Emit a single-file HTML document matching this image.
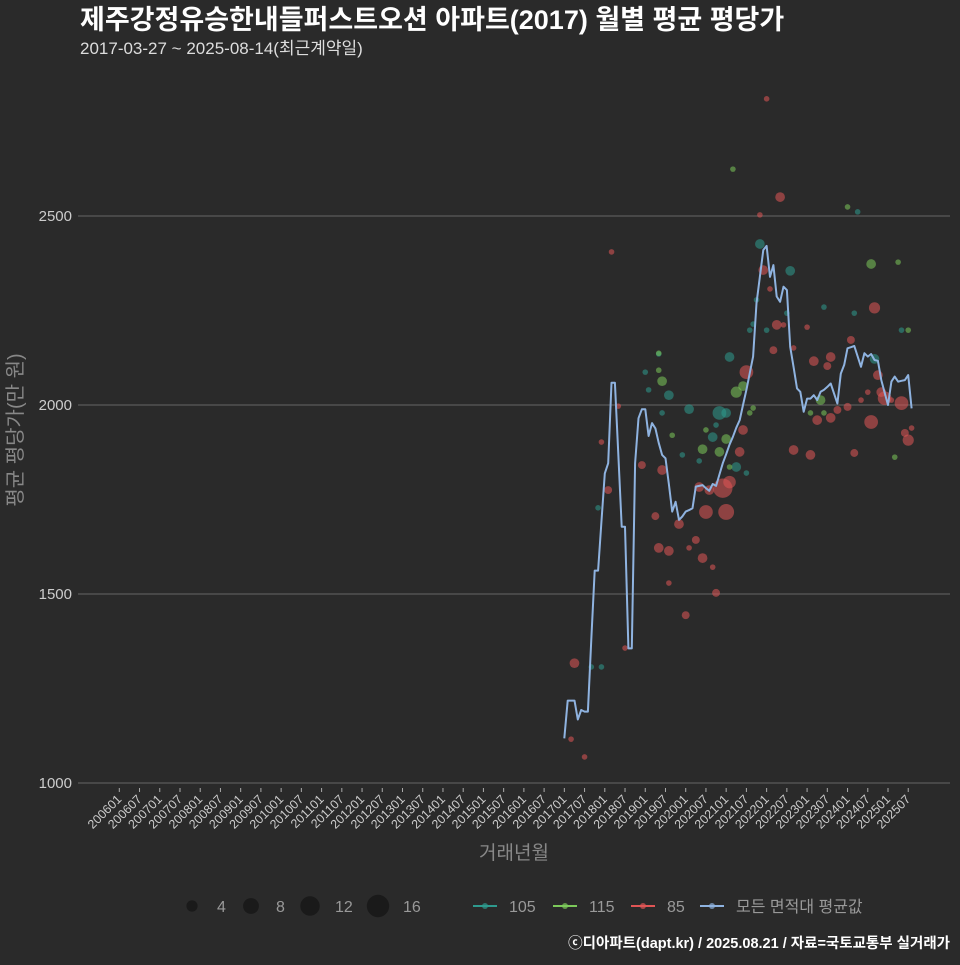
<!DOCTYPE html>
<html><head><meta charset="utf-8"><style>
html,body{margin:0;padding:0;background:#2a2a2a;}
body{width:960px;height:960px;overflow:hidden;font-family:"Liberation Sans","Noto Sans CJK KR",sans-serif;}
</style></head><body>
<svg id="chart" width="960" height="960" xmlns="http://www.w3.org/2000/svg" style="font-family:'Liberation Sans','Noto Sans CJK KR',sans-serif">
<rect width="960" height="960" fill="#2a2a2a"/>
<text x="80" y="29" fill="#ffffff" font-size="27" font-weight="bold">제주강정유승한내들퍼스트오션 아파트(2017) 월별 평균 평당가</text>
<text x="80" y="54" fill="#dddddd" font-size="17">2017-03-27 ~ 2025-08-14(최근계약일)</text>
<g id="grid"></g><g id="yticks"></g><g id="xticks"></g><g id="points"></g><g id="line"></g>
<text x="22" y="430" fill="#888" font-size="20" text-anchor="middle" transform="rotate(-90 22 430)">평균 평당가(만 원)</text>
<text x="514" y="859" fill="#888" font-size="19" text-anchor="middle">거래년월</text>
<g id="legend"></g>
<text x="950" y="948" fill="#ffffff" font-size="14.5" font-weight="bold" text-anchor="end">ⓒ디아파트(dapt.kr) / 2025.08.21 / 자료=국토교통부 실거래가</text>
</svg>
<script>
const yTicks=[1000,1500,2000,2500];
const xTickLabels=[];for(let y=2006;y<=2025;y++){xTickLabels.push(y+'01');xTickLabels.push(y+'07');}
// line: monthly average from 201701 (month index 132 since 200601)
const lineStart=132;
const lineValues=[1118,1218,1218,1218,1168,1193,1189,1189,1380,1562,1562,1690,1819,1846,2059,2059,1870,1678,1678,1356,1356,1846,1965,1989,1989,1918,1952,1938,1900,1868,1859,1790,1718,1744,1696,1705,1718,1722,1727,1784,1786,1788,1780,1773,1791,1786,1816,1846,1870,1895,1916,1940,1960,2000,2040,2085,2128,2269,2340,2410,2421,2339,2370,2287,2273,2313,2304,2154,2100,2044,2035,1982,2017,2017,2026,2013,2035,2040,2048,2057,2030,2004,2083,2106,2150,2153,2156,2128,2101,2137,2128,2135,2119,2117,2066,2033,2000,2062,2075,2062,2064,2066,2079,1991];
// scatter: month index, value, count
const g115M=[161,160,160,164,173,174,178,180,181,183,185,187,188,182,205,208,209,216,223,231,234,230];
const g115V=[2063,2092,2137,1920,1883,1934,1876,1910,1836,2034,2050,1979,1992,2624,1979,2013,1979,2524,2373,2378,2198,1862];
const g115N=[3,1,1,1,3,1,3,3,1,4,3,1,1,1,1,3,1,1,3,1,1,1];
const g105M=[140,143,142,160,156,157,163,169,161,178,180,177,176,167,172,183,186,181,190,199,209,218,232,188,187,192,198,224,189,219];
const g105V=[1307,1307,1728,2135,2087,2040,2026,1989,1979,1979,1979,1947,1915,1868,1852,1836,1820,2127,2426,2355,2259,2243,2198,2214,2198,2198,2243,2122,2278,2511];
const g105N=[1,1,1,1,1,1,3,3,1,6,3,1,3,1,1,3,1,3,3,3,1,1,1,1,1,1,1,3,1,1];
const g85M=[135,134,138,146,143,145,148,150,155,161,159,160,163,163,166,168,169,171,173,172,176,177,175,174,179,180,181,184,185,186,191,192,190,196,195,194,193,197,200,200,204,205,206,211,210,207,211,213,217,216,218,220,222,223,224,225,226,229,232,227,233,234,235];
const g85V=[1317,1116,1069,2405,1902,1775,1997,1357,1841,1828,1706,1622,1529,1614,1685,1444,1622,1643,1595,1783,1571,1503,1775,1717,1780,1717,1796,1876,1934,2087,2357,2810,2503,2550,2212,2145,2307,2212,2151,1881,2206,1868,2116,2127,2103,1960,1966,1987,2172,1995,1873,2013,2034,1955,2257,2079,2034,2013,2005,2018,1926,1907,1939];
const g85N=[3,1,1,1,1,2,1,1,2,3,2,3,1,3,3,2,1,2,3,3,1,2,3,6,12,8,5,3,3,6,3,1,1,3,3,2,1,1,1,3,1,3,3,3,2,3,3,2,2,2,2,1,1,6,4,3,3,1,6,6,2,4,1];

const NS='http://www.w3.org/2000/svg';
const X0=119.3,DX=3.3715;
const xs=m=>X0+m*DX;
const ys=v=>783-(v-1000)*0.378;
const rs=n=>2.8*Math.sqrt(n);
function mk(tag,attrs,parent){const e=document.createElementNS(NS,tag);for(const k in attrs)e.setAttribute(k,attrs[k]);parent.appendChild(e);return e;}
const grid=document.getElementById('grid'),yt=document.getElementById('yticks'),xt=document.getElementById('xticks');
yTicks.forEach(v=>{
  const l=mk('line',{x1:78,x2:950,y1:ys(v),y2:ys(v),stroke:'#5a5a5a','stroke-width':1.3},grid);
  
  
  const t=mk('text',{x:72,y:ys(v)+5,fill:'#cccccc','font-size':15,'text-anchor':'end'},yt);
  t.textContent=v;
  
  
});
xTickLabels.forEach((lab,i)=>{
  const x=xs(i*6);
  const tk=mk('line',{x1:x,x2:x,y1:788,y2:792,stroke:'#aaa','stroke-width':1},xt);
  
  
  const t=mk('text',{x:x+3,y:800,fill:'#cccccc','font-size':12.5,'text-anchor':'end',transform:`rotate(-45 ${x+3} 800)`},xt);
  t.textContent=lab;
  
  
});
const pts=document.getElementById('points');
function drawGroup(M,V,N,col,name){
  M.forEach((m,i)=>{
    const c=mk('circle',{cx:xs(m),cy:ys(V[i]),r:rs(N[i]),fill:col,'fill-opacity':0.55},pts);
    
    
  });
}
drawGroup(g105M,g105V,g105N,'#2e9a8e','area-105');
drawGroup(g115M,g115V,g115N,'#7cc95a','area-115');
drawGroup(g85M,g85V,g85N,'#e05555','area-85');
const d=lineValues.map((v,i)=>(i?'L':'M')+xs(lineStart+i).toFixed(1)+','+ys(v).toFixed(1)).join('');
const pl=mk('path',{d:d,fill:'none',stroke:'#8fb3e0','stroke-width':2,'stroke-linejoin':'round'},document.getElementById('line'));


const lg=document.getElementById('legend');
const sizeN=[4,8,12,16],sizeX=[192,251,310,378];
sizeN.forEach((n,i)=>{
  const c=mk('circle',{cx:sizeX[i],cy:906,r:rs(n),fill:'#1a1a1a'},lg);
  
  
  const t=mk('text',{x:sizeX[i]+25,y:912,fill:'#999','font-size':16},lg);
  t.textContent=n;
  
  
});
const legLab=['105','115','85','모든 면적대 평균값'],legCol=['#2e9a8e','#7cc95a','#e05555','#8fb3e0'],legX=[485,565,643,712];
legLab.forEach((lab,i)=>{
  const g=mk('g',{},lg);
  
  
  mk('line',{x1:legX[i]-12,x2:legX[i]+12,y1:906,y2:906,stroke:legCol[i],'stroke-width':2},g);
  mk('circle',{cx:legX[i],cy:906,r:3,fill:legCol[i],'fill-opacity':0.7},g);
  const t=mk('text',{x:legX[i]+24,y:912,fill:'#999','font-size':16},g);
  t.textContent=lab;
});
</script>
</body></html>
